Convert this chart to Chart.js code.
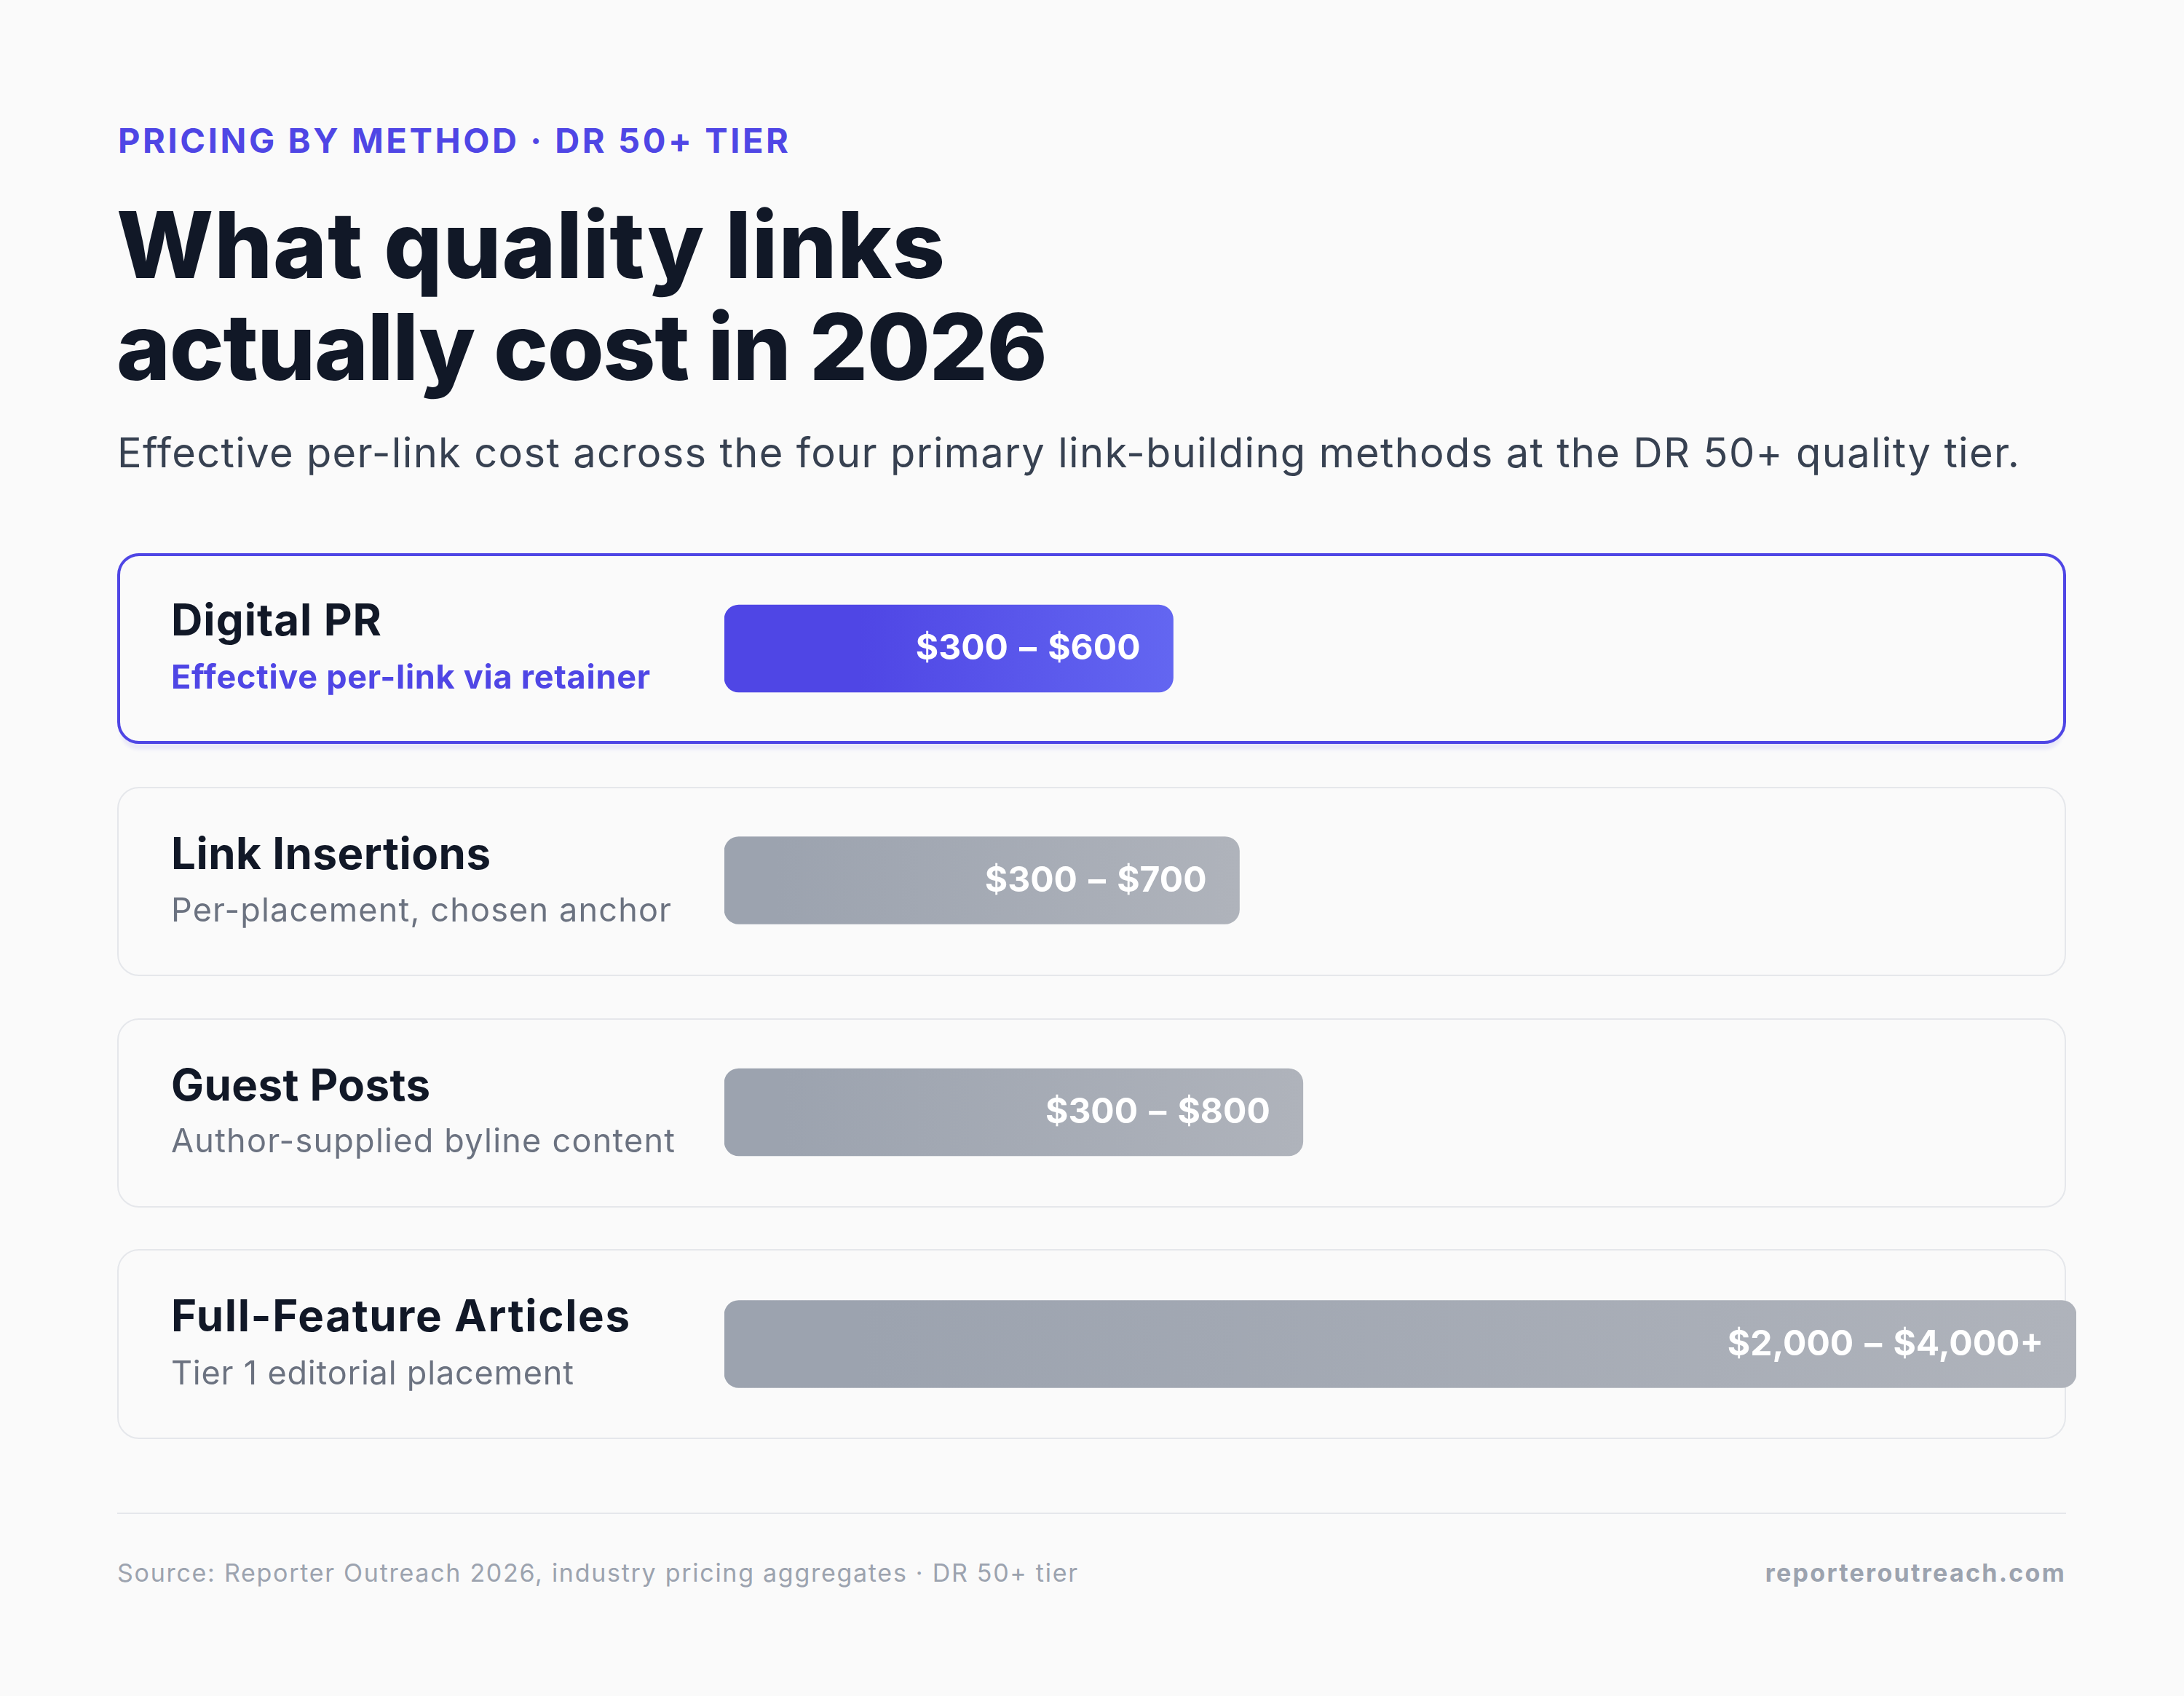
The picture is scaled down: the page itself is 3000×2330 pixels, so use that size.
<!DOCTYPE html>
<html>
<head>
<meta charset="utf-8">
<script src="https://cdn.jsdelivr.net/npm/chart.js@4.4.1/dist/chart.umd.min.js"></script>
<style>
  html, body { margin: 0; padding: 0; }
  body {
    width: 3000px; height: 2330px; position: relative; overflow: hidden;
    background: #fafafa; font-family: Inter, "Noto Sans", sans-serif;
  }
  .card {
    position: absolute; left: 161px; width: 2677px; box-sizing: border-box;
    border: 2px solid #e5e7eb; border-radius: 30px; background: #fafafa;
  }
  .card.hot {
    border: 4px solid #4f46e5;
    box-shadow: 0 12px 4px -4px rgba(79, 70, 229, 0.09);
  }
  .rule { position: absolute; left: 161px; top: 2078px; width: 2677px; height: 2px; background: #e5e7eb; }
  #wrap { position: absolute; left: 0; top: 700px; width: 3000px; height: 1340px; z-index: 2; }
  .t { position: absolute; white-space: nowrap; line-height: 1; z-index: 3; }
</style>
</head>
<body>
<div class="rule"></div>
<div id="wrap"><canvas id="chart" width="3000" height="1340"></canvas></div>
<script>
// data
const methods = ['Digital PR', 'Link Insertions', 'Guest Posts', 'Full-Feature Articles'];
const notes = ['Effective per-link via retainer', 'Per-placement, chosen anchor', 'Author-supplied byline content', 'Tier 1 editorial placement'];
const priceLow = [300, 300, 300, 2000];
const priceHigh = [600, 700, 800, 4000];
const openEnded = [false, false, false, true];
// drawn bar length, % of the bar track
const barShare = [33.2, 38.1, 42.8, 100];
const highlighted = [true, false, false, false];

const money = v => '$' + v.toLocaleString('en-US');
const rangeLabels = methods.map((m, i) =>
  money(priceLow[i]) + ' \u2013 ' + money(priceHigh[i]) + (openEnded[i] ? '+' : ''));

// cards behind each bar
const cardTops = [760, 1081, 1399, 1716];
const cardHeights = [262, 260, 260, 261];
cardTops.forEach((top, i) => {
  const c = document.createElement('div');
  c.className = 'card' + (highlighted[i] ? ' hot' : '');
  c.style.top = top + 'px';
  c.style.height = cardHeights[i] + 'px';
  document.body.appendChild(c);
});

// text placed by baseline, stretched to the measured width
function txt(s, x, base, size, weight, color, width, align) {
  const d = document.createElement('div');
  d.className = 't';
  d.textContent = s;
  d.style.fontSize = size + 'px';
  d.style.fontWeight = weight;
  d.style.color = color;
  d.style.top = (base - 0.864 * size) + 'px';
  document.body.appendChild(d);
  const w0 = d.getBoundingClientRect().width;
  const ls = (width - w0) / (s.length - 1);
  d.style.letterSpacing = ls + 'px';
  d.style.left = (align === 'right' ? x - width - ls : x) + 'px';
  return d;
}

txt('PRICING BY METHOD \u00b7 DR 50+ TIER', 162, 210, 47, 700, '#4f46e5', 921);
txt('What quality links', 160, 382, 126, 800, '#111827', 1138);
txt('actually cost in 2026', 160, 522, 126, 800, '#111827', 1279);
txt('Effective per-link cost across the four primary link-building methods at the DR 50+ quality tier.',
  161, 642, 56, 400, '#374151', 2613);

const titleBase = [873, 1194, 1512, 1829];
const noteBase = [946, 1266, 1583, 1902];
const titleW = [289, 439, 356, 630];
const noteW = [658, 687, 692, 553];
methods.forEach((m, i) => {
  txt(m, 235, titleBase[i], 60, 700, '#111827', titleW[i]);
  txt(notes[i], 235, noteBase[i], 45, highlighted[i] ? 700 : 400,
    highlighted[i] ? '#4f46e5' : '#6b7280', noteW[i]);
});

txt('Source: Reporter Outreach 2026, industry pricing aggregates \u00b7 DR 50+ tier', 161, 2173, 34, 400, '#9ca3af', 1319);
txt('reporteroutreach.com', 2838, 2173, 34, 700, '#9ca3af', 411, 'right');

// range label inside the end of every bar
const rangeLabelPlugin = {
  id: 'rangeLabels',
  afterDatasetsDraw(chart) {
    const ctx = chart.ctx;
    const meta = chart.getDatasetMeta(0);
    ctx.save();
    ctx.font = '700 48px Inter, "Noto Sans", sans-serif';
    ctx.fillStyle = '#ffffff';
    ctx.textAlign = 'right';
    ctx.textBaseline = 'middle';
    meta.data.forEach((bar, i) => {
      ctx.fillText(rangeLabels[i].replace(' \u2013 ', ' \u200a\u2013\u200a '), bar.x - 45, bar.y + 1);
    });
    ctx.restore();
  }
};

function barFill(context) {
  const chart = context.chart;
  const i = context.dataIndex;
  const hot = highlighted[i];
  if (!chart.chartArea) return hot ? '#4f46e5' : '#9ca3af';
  const xs = chart.scales.x;
  const x0 = xs.getPixelForValue(0);
  const x1 = xs.getPixelForValue(barShare[i]);
  const g = chart.ctx.createLinearGradient(x0, 0, x1, 0);
  if (hot) {
    g.addColorStop(0, '#4f46e5');
    g.addColorStop(0.3, '#4f46e5');
    g.addColorStop(1, '#6366f1');
  } else {
    g.addColorStop(0, '#9ca3af');
    g.addColorStop(0.1, '#9ca3af');
    g.addColorStop(1, '#afb3bb');
  }
  return g;
}

new Chart(document.getElementById('chart'), {
  type: 'bar',
  data: {
    labels: methods,
    datasets: [{
      data: barShare,
      backgroundColor: barFill,
      borderRadius: 20,
      borderSkipped: false,
      barThickness: 120
    }]
  },
  options: {
    indexAxis: 'y',
    responsive: false,
    animation: false,
    devicePixelRatio: 1,
    layout: { padding: { left: 995, right: 148, top: 31.75, bottom: 34.25 } },
    scales: {
      x: { display: false, min: 0, max: 100 },
      y: { display: false }
    },
    plugins: {
      legend: { display: false },
      tooltip: { enabled: false }
    }
  },
  plugins: [rangeLabelPlugin]
});
</script>
</body>
</html>
